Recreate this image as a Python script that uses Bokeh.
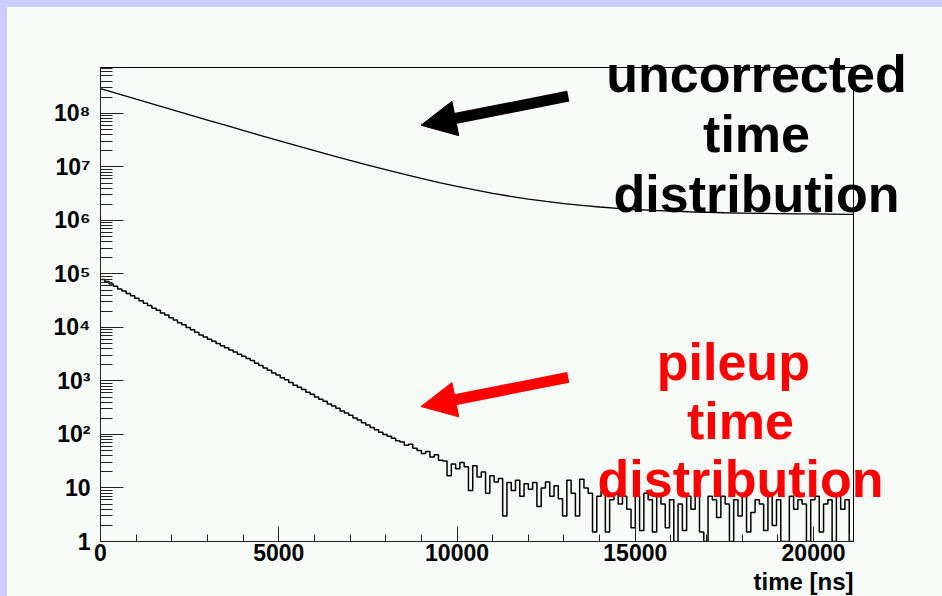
import math

from bokeh.plotting import figure
from bokeh.models import (Range1d, FixedTicker, CustomJSTickFormatter, BasicTickFormatter,
                          Arrow, NormalHead, Label, Spacer, Column, Row)
from bokeh.embed import file_html
from bokeh.resources import INLINE

# ---- data -------------------------------------------------------------
# pileup histogram: 120 ns bins from 0 to 21120 ns
bin_width = 120
pileup_counts = [
    79000, 72000, 65000, 59000, 52000, 48000, 43000, 39000, 35000, 31500,
    28200, 25700, 22900, 20900, 18600, 17000, 15100, 13800, 12300, 11200,
    10000, 9100, 8100, 7240, 6600, 6030, 5500, 5010, 4570, 4170,
    3800, 3470, 3160, 2880, 2630, 2400, 2140, 1950, 1740, 1580,
    1410, 1290, 1150, 1050, 933, 832, 759, 692, 617, 562,
    501, 457, 417, 372, 339, 309, 275, 251, 229, 204,
    186, 166, 151, 135, 123, 110, 100, 93, 85, 76,
    72, 63, 66, 55, 50, 44, 48, 38, 42, 33,
    32, 17, 28, 23, 30, 25, 9, 26, 16, 20,
    8, 17, 13, 15, 3, 12.6, 9, 14, 7, 12,
    9.5, 12.6, 4.5, 10, 13, 7, 11, 6.3, 3, 14,
    8, 3, 14.5, 10, 8, 1.5, 7, 9, 1.5, 6,
    8, 5, 7, 4, 1.8, 7, 1.6, 8, 6, 1.5,
    7, 5, 1.8, 6, 1, 5, 1.6, 7, 4, 8,
    1.5, 1, 7, 6, 2.8, 7, 5, 1, 6, 3,
    7, 1.5, 3.5, 6, 5, 1.6, 7, 2, 6, 1,
    1, 7, 4, 6, 5, 1, 6, 7, 1.5, 5,
    6, 1, 7, 4, 6, 1,
]

# uncorrected time distribution, sampled every 500 ns
uncorr_time = list(range(0, 21001, 500)) + [21120]
uncorr_counts = [
    2.91e8, 2.32e8, 1.85e8, 1.48e8, 1.18e8, 9.41e7, 7.52e7, 6.01e7, 4.81e7, 3.86e7,
    3.10e7, 2.49e7, 2.01e7, 1.63e7, 1.32e7, 1.08e7, 8.85e6, 7.31e6, 6.08e6, 5.10e6,
    4.33e6, 3.71e6, 3.21e6, 2.82e6, 2.51e6, 2.26e6, 2.06e6, 1.91e6, 1.78e6, 1.68e6,
    1.60e6, 1.54e6, 1.49e6, 1.45e6, 1.42e6, 1.39e6, 1.37e6, 1.35e6, 1.34e6, 1.33e6,
    1.32e6, 1.31e6, 1.30e6, 1.30e6,
]

x_ticks = [0, 5000, 10000, 15000, 20000]
y_ticks = [1, 10, 1e2, 1e3, 1e4, 1e5, 1e6, 1e7, 1e8]
y_tick_labels = ["1", "10", "10²", "10³", "10⁴", "10⁵", "10⁶", "10⁷", "10⁸"]
x_title = "time [ns]"

# annotation texts and arrow endpoints (data coordinates)
black_lines = ["uncorrected", "time", "distribution"]
black_text_x = [18400, 18400, 18400]
black_text_y = [5.37e8, 4.05e7, 3.06e6]
red_lines = ["pileup", "time", "distribution"]
red_text_x = [17750, 17950, 17950]
red_text_y = [2217, 175, 15.0]
x_title_pos = (21120, 0.179)
black_arrow = dict(x_start=13120, y_start=2.1e8, x_end=8990, y_end=6.0e7)
red_arrow = dict(x_start=13120, y_start=1170, x_end=8990, y_end=333)

# ---- styling ------------------------------------------------------------
FONT = "Liberation Sans"
BG = "#f6fbf8"
LAVENDER = "#ccccff"
X_MAX = bin_width * len(pileup_counts)
Y_MAX = 7.2e8

PAD = 7                               # lavender strip width
W, H = 935, 589                       # plot canvas
FL, FR, FT, FB = 93, 89, 60, 55       # borders around the data frame
FW, FH = W - FL - FR, H - FT - FB

p = figure(width=W, height=H, y_axis_type="log", title=None,
           x_range=Range1d(0, X_MAX), y_range=Range1d(1, Y_MAX),
           output_backend="svg", toolbar_location=None,
           background_fill_color=BG, border_fill_color=BG,
           min_border_left=FL, min_border_right=FR,
           min_border_top=FT, min_border_bottom=FB)
p.outline_line_color = "black"
p.outline_line_width = 1
p.xgrid.visible = False
p.ygrid.visible = False

# x axis
x_minor = list(range(0, X_MAX + 1, 1000))
p.xaxis.ticker = FixedTicker(ticks=x_ticks, minor_ticks=x_minor)
p.xaxis.formatter = BasicTickFormatter(use_scientific=False)
p.xaxis.major_tick_in = 15
p.xaxis.major_tick_out = 0
p.xaxis.minor_tick_in = 7
p.xaxis.minor_tick_out = 0
p.xaxis.major_label_standoff = 2

# y axis
y_minor = [m * 10 ** e for e in range(9) for m in range(2, 10) if m * 10 ** e < Y_MAX]
p.yaxis.ticker = FixedTicker(ticks=y_ticks, minor_ticks=y_minor)
p.yaxis.formatter = CustomJSTickFormatter(
    args=dict(labels=y_tick_labels),
    code="return labels[Math.round(Math.log10(tick))];")
p.yaxis.major_tick_in = 23
p.yaxis.major_tick_out = 0
p.yaxis.minor_tick_in = 12
p.yaxis.minor_tick_out = 0
p.yaxis.major_label_standoff = 10

for ax in (p.xaxis, p.yaxis):
    ax.axis_line_color = "#222222"
    ax.major_tick_line_color = "#222222"
    ax.minor_tick_line_color = "#222222"
    ax.major_label_text_font = FONT
    ax.major_label_text_font_style = "bold"
    ax.major_label_text_font_size = "23px"
    ax.major_label_text_color = "black"

# ---- histograms ------------------------------------------------------------
edges = [i * bin_width for i in range(len(pileup_counts) + 1)]
step_vals = pileup_counts + [pileup_counts[-1]]
p.step(x=edges, y=step_vals, mode="after", line_color="black", line_width=1.5)
p.line(x=uncorr_time, y=uncorr_counts, line_color="black", line_width=1.3)

p.add_layout(Arrow(end=NormalHead(size=35, fill_color="black", line_color="black"),
                   line_color="black", line_width=11, **black_arrow))
p.add_layout(Arrow(end=NormalHead(size=35, fill_color="#ff0000", line_color="#ff0000"),
                   line_color="#ff0000", line_width=11, **red_arrow))

# ---- transparent overlay sharing the data scales, spanning the whole canvas,
# so that the captions may run past the frame edges ----------------------------
x_per_px = X_MAX / FW
decades_per_px = math.log10(Y_MAX) / FH
ov = figure(width=W, height=H, y_axis_type="log", title=None,
            x_range=Range1d(-FL * x_per_px, X_MAX + FR * x_per_px),
            y_range=Range1d(10 ** (-FB * decades_per_px),
                            Y_MAX * 10 ** (FT * decades_per_px)),
            x_axis_location=None, y_axis_location=None,
            output_backend="svg", toolbar_location=None,
            min_border=0, min_border_left=0, min_border_right=0,
            min_border_top=0, min_border_bottom=0,
            styles={"position": "absolute", "left": f"{PAD}px", "top": f"{PAD}px"})
ov.background_fill_alpha = 0
ov.border_fill_alpha = 0
ov.outline_line_color = None
ov.xgrid.visible = False
ov.ygrid.visible = False

ov.add_layout(Label(x=x_title_pos[0], y=x_title_pos[1], text=x_title, text_font=FONT,
                    text_font_style="bold", text_font_size="24px",
                    text_align="right", text_baseline="alphabetic",
                    text_color="black"))
for txt, xx, yy in zip(black_lines, black_text_x, black_text_y):
    ov.add_layout(Label(x=xx, y=yy, text=txt, text_font=FONT,
                        text_font_style="bold", text_font_size="52px",
                        text_align="center", text_baseline="alphabetic",
                        text_color="black"))
for txt, xx, yy in zip(red_lines, red_text_x, red_text_y):
    ov.add_layout(Label(x=xx, y=yy, text=txt, text_font=FONT,
                        text_font_style="bold", text_font_size="52px",
                        text_align="center", text_baseline="alphabetic",
                        text_color="#ff0000"))

# ---- page: lavender strips on the top and left edges --------------------------
top_strip = Spacer(width=PAD + W, height=PAD, styles={"background-color": LAVENDER})
left_strip = Spacer(width=PAD, height=H, styles={"background-color": LAVENDER})
layout = Column(children=[top_strip, Row(children=[left_strip, p]), ov])

open("out.html", "w").write(file_html(layout, INLINE))
